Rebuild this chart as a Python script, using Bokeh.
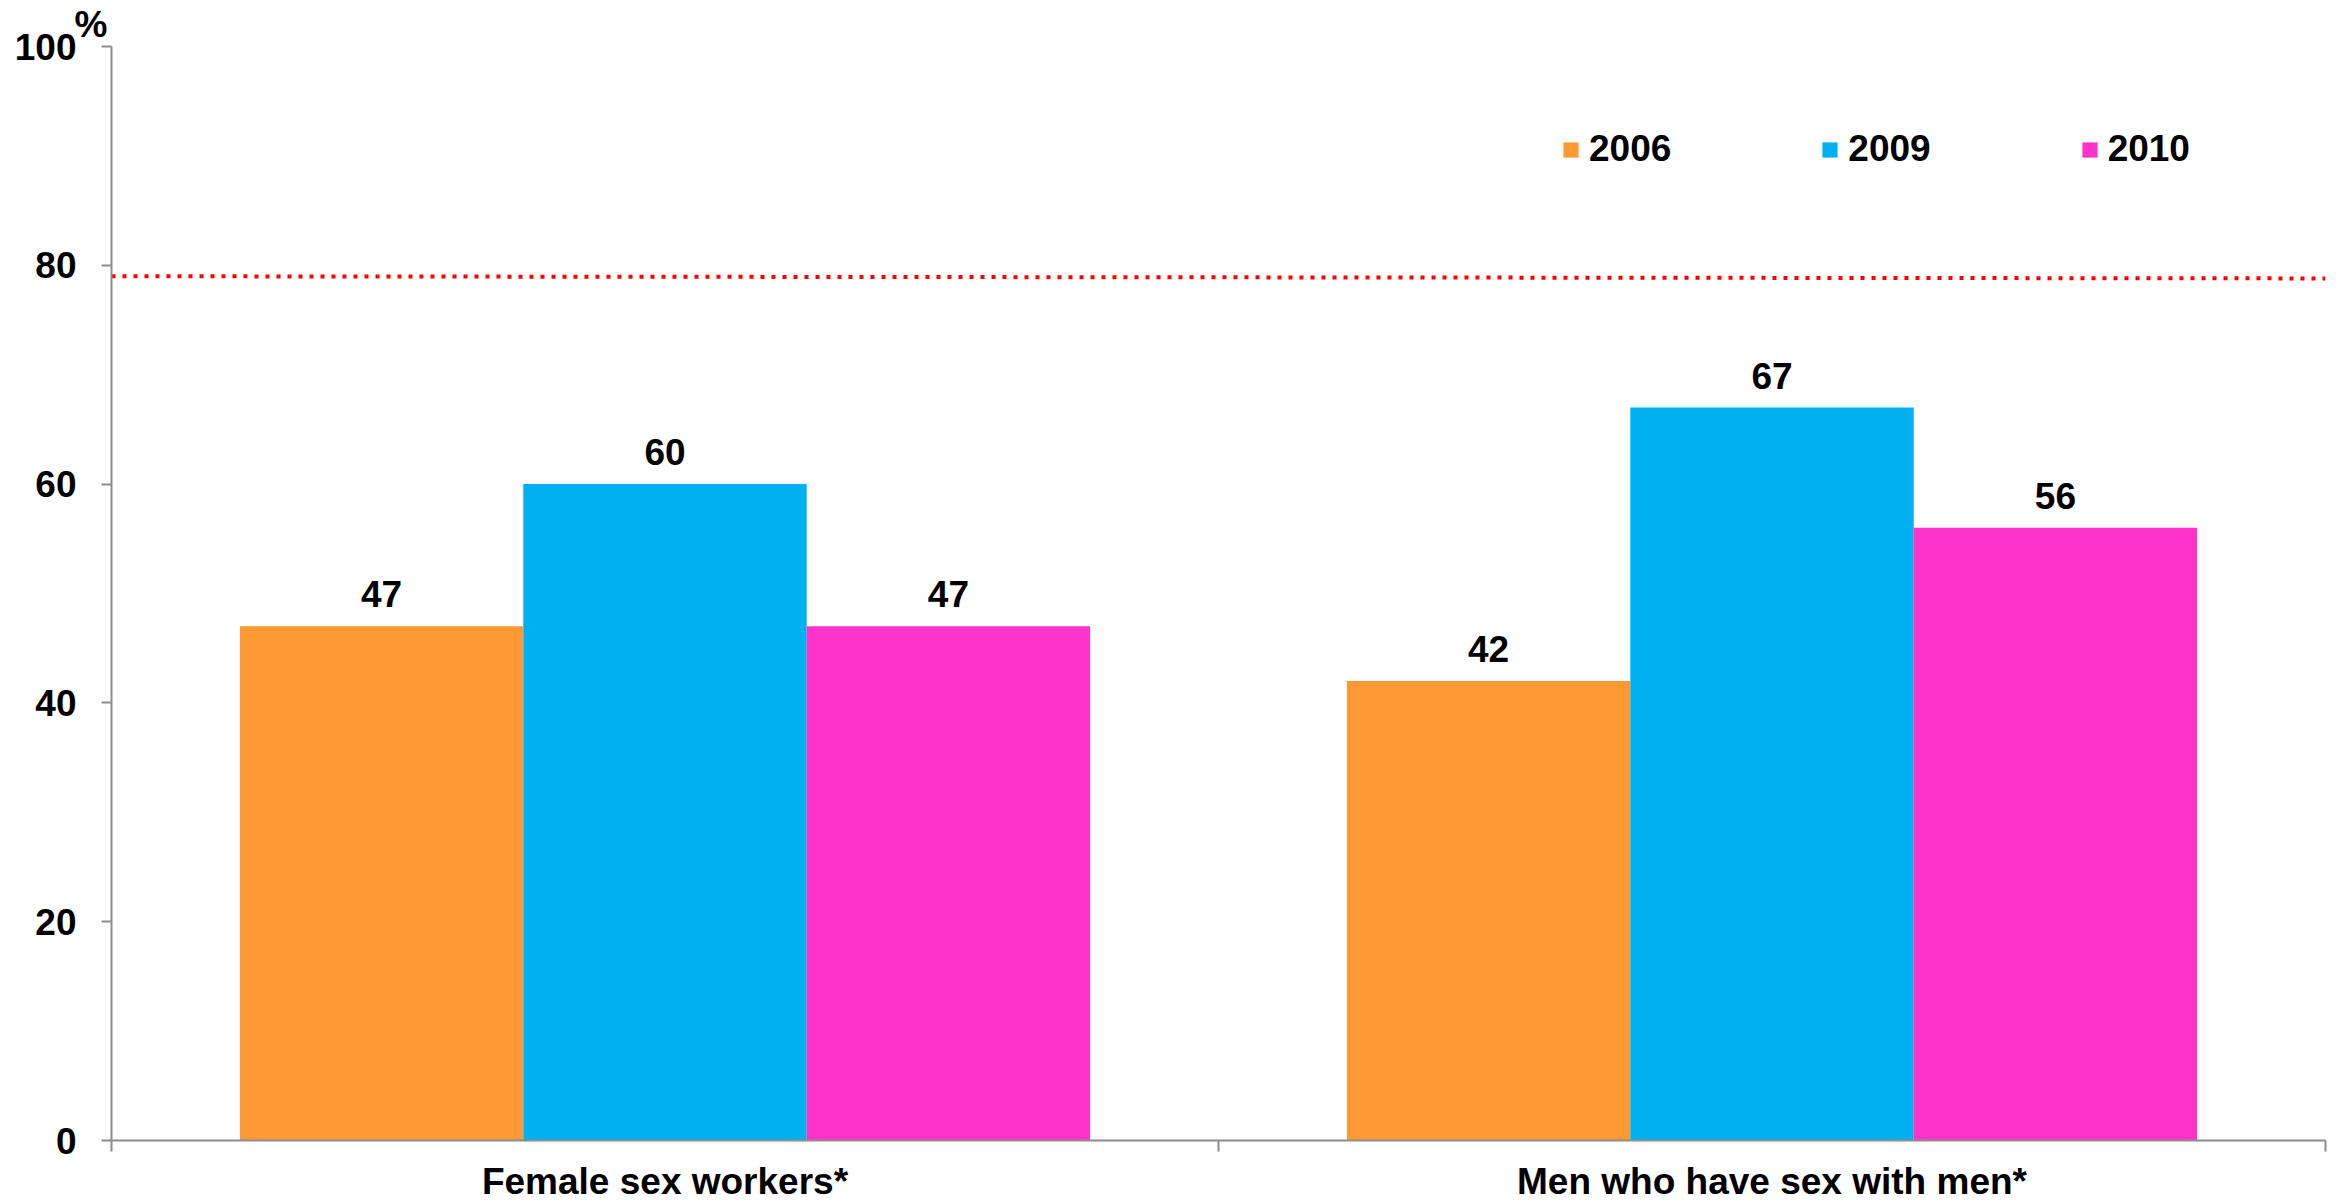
from bokeh.plotting import figure
from bokeh.models import Range1d, FixedTicker, ColumnDataSource, LinearAxis
from bokeh.core.properties import value
from bokeh.embed import file_html
from bokeh.resources import INLINE

categories = ["Female sex workers*", "Men who have sex with men*"]
years = ["2006", "2009", "2010"]
values_2006 = [47, 42]
values_2009 = [60, 67]
values_2010 = [47, 56]
colors = ["#FF9933", "#00B0F0", "#FF33CC"]
y_ticks = [0, 20, 40, 60, 80, 100]
unit_label = "%"
target_start, target_end = 79.0, 78.8

FONT = "Liberation Sans"
AXIS_COLOR = "#8C8C8C"

n = len(categories)
centers = [i + 0.5 for i in range(n)]

W, H = 2338, 1204
p = figure(width=W, height=H,
           x_range=Range1d(0, n),
           y_range=Range1d(0, 100),
           output_backend="svg", toolbar_location=None,
           min_border_left=111, min_border_right=13,
           min_border_top=43, min_border_bottom=64)
p.grid.visible = False
p.outline_line_color = None
p.background_fill_color = "white"

# y axis
ya = p.left[0]
ya.ticker = FixedTicker(ticks=y_ticks, minor_ticks=[])
ya.major_tick_out = 10
ya.major_tick_in = 0
ya.minor_tick_out = 0
ya.minor_tick_in = 0
ya.axis_line_color = AXIS_COLOR
ya.axis_line_width = 2
ya.major_tick_line_color = AXIS_COLOR
ya.major_tick_line_width = 2
ya.major_label_text_font = FONT
ya.major_label_text_font_style = "bold"
ya.major_label_text_font_size = "37px"
ya.major_label_text_color = "black"
ya.major_label_standoff = 25

# x axis: labels at category centres, ticks at category boundaries
xa = p.below[0]
xa.ticker = FixedTicker(ticks=centers, minor_ticks=list(range(n + 1)))
xa.major_label_overrides = {c: lab for c, lab in zip(centers, categories)}
xa.major_tick_out = 0
xa.major_tick_in = 0
xa.major_tick_line_color = None
xa.minor_tick_out = 11
xa.minor_tick_in = 0
xa.minor_tick_line_color = AXIS_COLOR
xa.minor_tick_line_width = 2
xa.axis_line_color = AXIS_COLOR
xa.axis_line_width = 2
xa.major_label_text_font = FONT
xa.major_label_text_font_style = "bold"
xa.major_label_text_font_size = "37px"
xa.major_label_text_color = "black"
xa.major_label_standoff = 9

# unit sign "%" shown as superscript beside the top y tick (via an axis above)
ua = LinearAxis(ticker=FixedTicker(ticks=[0], minor_ticks=[]))
ua.major_label_overrides = {0: unit_label + "\u00a0\u00a0\u00a0\u00a0"}
ua.axis_line_color = None
ua.major_tick_line_color = None
ua.minor_tick_line_color = None
ua.major_tick_out = 0
ua.major_tick_in = 0
ua.minor_tick_out = 0
ua.minor_tick_in = 0
ua.major_label_standoff = 2
ua.major_label_text_font = FONT
ua.major_label_text_font_style = "bold"
ua.major_label_text_font_size = "37px"
ua.major_label_text_color = "black"
p.add_layout(ua, "above")

bw = 0.256
offsets = [-bw, 0.0, bw]
series = [values_2006, values_2009, values_2010]
for yr, col, off, vals in zip(years, colors, offsets, series):
    src = ColumnDataSource(dict(x=[c + off for c in centers], top=vals,
                                lab=[str(v) for v in vals]))
    p.vbar(x="x", top="top", width=bw, source=src, fill_color=col,
           line_color=None, legend_label=yr)
    p.text(x="x", y="top", text="lab", source=src, text_align="center",
           text_baseline="alphabetic", y_offset=-32, text_font=value(FONT),
           text_font_style="bold", text_font_size="37px", text_color="black")

# target line
p.line(x=[0, n], y=[target_start, target_end],
       line_color="#FF0000", line_width=4, line_dash="4 7")

lg = p.legend[0]
lg.orientation = "horizontal"
lg.location = (1450, 970)
lg.border_line_color = None
lg.background_fill_alpha = 0
lg.padding = 0
lg.margin = 0
lg.spacing = 149
lg.glyph_width = 19
lg.glyph_height = 19
lg.label_standoff = 9
lg.label_text_font = FONT
lg.label_text_font_style = "bold"
lg.label_text_font_size = "37px"
lg.label_text_color = "black"

open("out.html", "w").write(file_html(p, INLINE))
